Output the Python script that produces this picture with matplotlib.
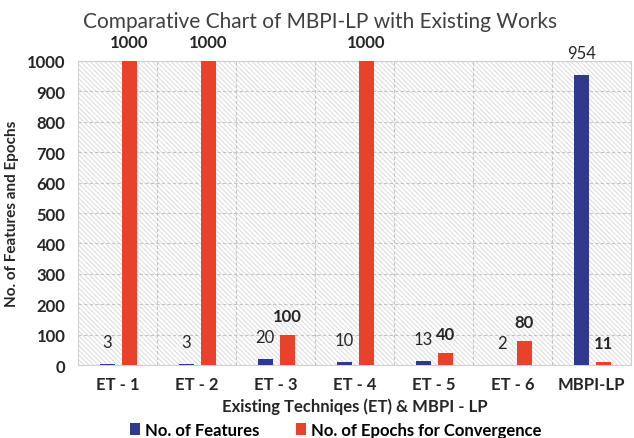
import matplotlib
matplotlib.use("Agg")
import matplotlib.pyplot as plt
import numpy as np
from matplotlib.patches import Rectangle

categories = ["ET - 1", "ET - 2", "ET - 3", "ET - 4", "ET - 5", "ET - 6", "MBPI-LP"]
features = [3, 3, 20, 10, 13, 2, 954]
epochs = [1000, 1000, 100, 1000, 40, 80, 11]
yticks = list(range(0, 1001, 100))

BLUE = "#2f3a8f"
RED = "#e8432a"
TXT = "#262626"

plt.rcParams["font.family"] = ["Lato", "DejaVu Sans"]
plt.rcParams["hatch.color"] = "#dcdcdc"
plt.rcParams["hatch.linewidth"] = 0.7

fig = plt.figure(figsize=(6.34, 4.39), dpi=100)
ax = fig.add_axes([0.123, 0.166, 0.872, 0.693])

x = np.arange(len(categories))
w = 0.19
ax.add_patch(Rectangle((0, 0), 1, 1, transform=ax.transAxes, facecolor="white",
                       edgecolor="#dcdcdc", lw=0, hatch="\\" * 7, zorder=0))
b1 = ax.bar(x - 0.13, features, w, color=BLUE, zorder=3, label="No. of Features")
b2 = ax.bar(x + 0.15, epochs, w, color=RED, zorder=3, label="No. of Epochs for Convergence")

for xi, v in zip(x - 0.13, features):
    ax.annotate(str(v), (xi, v), xytext=(0, 10), textcoords="offset points",
                ha="center", va="bottom", fontsize=12, color=TXT)
for xi, v in zip(x + 0.15, epochs):
    ax.annotate(str(v), (xi, v), xytext=(0, 8), textcoords="offset points",
                ha="center", va="bottom", fontsize=12, color=TXT, fontweight="bold")

ax.set_xlim(-0.5, len(categories) - 0.5)
ax.set_ylim(0, 1000)
ax.set_yticks(yticks)
ax.set_xticks(x)
ax.set_xticklabels(categories)
ax.set_xticks(x[:-1] + 0.5, minor=True)
ax.tick_params(axis="both", which="both", length=0, labelsize=12, colors=TXT)
for lab in ax.get_xticklabels() + ax.get_yticklabels():
    lab.set_fontweight("bold")
ax.tick_params(axis="x", pad=8)
ax.tick_params(axis="y", pad=9)
ax.grid(axis="y", which="major", color="#c4c4c4", linestyle=(0, (3, 2)), lw=0.8, zorder=1)
ax.grid(axis="x", which="minor", color="#c4c4c4", linestyle=(0, (3, 2)), lw=0.8, zorder=1)
ax.set_axisbelow(True)
for s in ax.spines.values():
    s.set_color("#d0d0d0")

ax.set_ylabel("No. of Features and Epochs", fontsize=11, fontweight="bold", color=TXT, labelpad=6)
ax.set_xlabel("Existing Techniqes (ET) & MBPI - LP", fontsize=12, fontweight="bold", color=TXT, labelpad=4)
fig.text(0.505, 0.95, "Comparative Chart of MBPI-LP with Existing Works", ha="center", va="center",
         fontsize=15, color="#404040")
fig.legend(handles=[b1, b2], loc="center", bbox_to_anchor=(0.53, 0.018), ncol=2, frameon=False,
           handlelength=0.6, handleheight=0.7, handletextpad=0.3, columnspacing=2.2,
           prop={"weight": "bold", "size": 12})
fig.savefig("out.png", dpi=100)
